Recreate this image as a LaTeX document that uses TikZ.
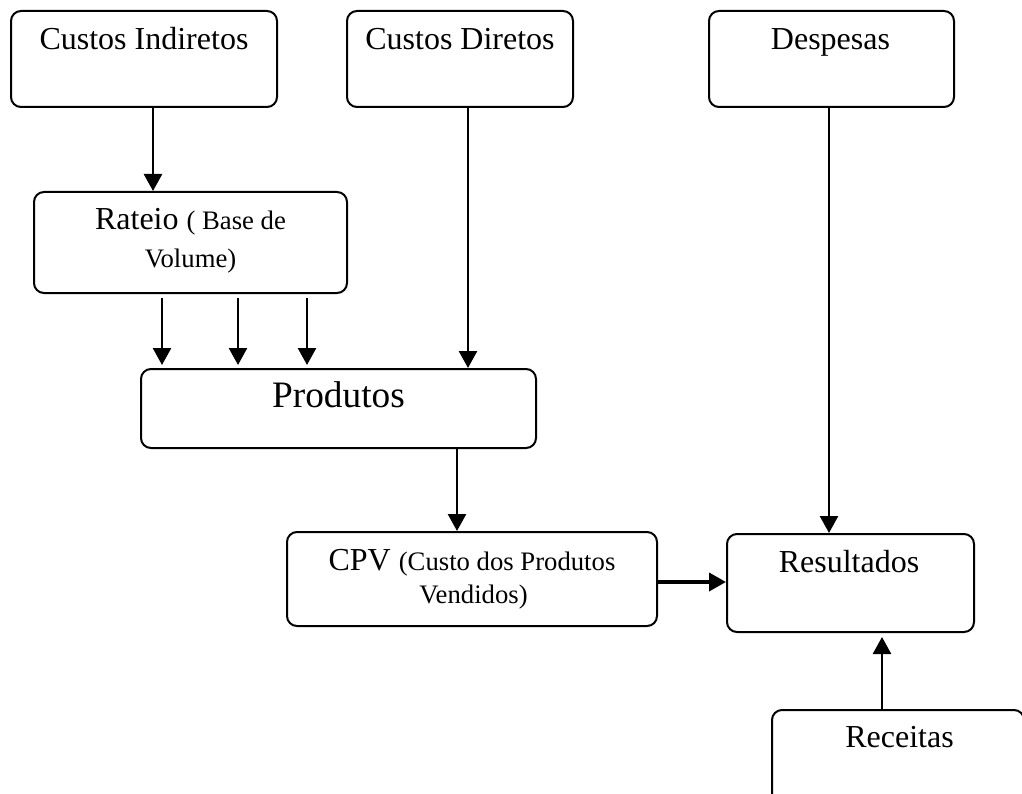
\documentclass[tikz,border=0pt]{standalone}
\usepackage{fontspec}
\setmainfont{Liberation Serif}
\usetikzlibrary{arrows.meta}
\newcommand{\largetxt}{\fontsize{37.3}{44}\selectfont}
\newcommand{\normtxt}{\fontsize{32}{38}\selectfont}
\newcommand{\smalltxt}{\fontsize{26.7}{32}\selectfont}
\tikzset{
  box/.style={draw, line width=2pt, rounded corners=10pt, inner sep=0pt},
  txt/.style={anchor=base, inner sep=0pt, font=\normtxt},
  arr/.style={line width=2.6pt, -{Triangle[width=18pt,length=17pt]}},
  thickarr/.style={line width=3.6pt, -{Triangle[width=18pt,length=17pt]}}
}
\begin{document}
\begin{tikzpicture}[x=1pt,y=-1pt]
\useasboundingbox (0,0) rectangle (1022,794);

% boxes
\node[box, minimum width=266pt, minimum height=96pt]  (ci)     at (144,59) {};
\node[box, minimum width=226pt, minimum height=96pt]  (cd)     at (460,59) {};
\node[box, minimum width=245pt, minimum height=96pt]  (desp)   at (831.5,59) {};
\node[box, minimum width=313pt, minimum height=101pt] (rateio) at (190.5,242.5) {};
\node[box, minimum width=395pt, minimum height=79pt]  (prod)   at (338.5,408.5) {};
\node[box, minimum width=370pt, minimum height=94pt]  (cpv)    at (472,579) {};
\node[box, minimum width=247pt, minimum height=98pt]  (res)    at (850.5,583) {};
\node[box, minimum width=252pt, minimum height=120pt] (rec)    at (898,770) {};

% labels
\node[txt] (tci)   at (144,50)   {Custos Indiretos};
\node[txt] (tcd)   at (460,50)   {Custos Diretos};
\node[txt] (tdesp) at (830.5,50) {Despesas};
\node[txt] (tra1)  at (190.5,230) {Rateio {\smalltxt( Base de}};
\node[txt, font=\smalltxt] (tra2) at (190.5,268) {Volume)};
\node[txt, font=\largetxt] (tprod) at (338.5,407) {Produtos};
\node[txt] (tcpv1) at (472,570) {CPV {\smalltxt(Custo dos Produtos}};
\node[txt, font=\smalltxt] (tcpv2) at (473.5,603) {Vendidos)};
\node[txt] (tres)  at (849,572)  {Resultados};
\node[txt] (trec)  at (899.5,747) {Receitas};

% connectors
\draw[arr] ([xshift=9pt]ci.south) -- ([xshift=9pt]ci.south |- rateio.north);
\foreach \dx in {-28.5,47.5,116.5}
  \draw[arr, shorten <=4pt, shorten >=3pt]
    ([xshift=\dx pt]rateio.south) -- ([xshift=\dx pt]rateio.south |- prod.north);
\draw[arr] ([xshift=8pt]cd.south) -- ([xshift=8pt]cd.south |- prod.north);
\draw[arr] ([xshift=118.5pt]prod.south) -- ([xshift=118.5pt]prod.south |- cpv.north);
\draw[arr] ([xshift=-2.5pt]desp.south) -- ([xshift=-2.5pt]desp.south |- res.north);
\draw[thickarr] ([yshift=-3pt]cpv.east) -- ([yshift=-3pt]cpv.east -| res.west);
\draw[arr, shorten >=4pt] ([xshift=-16pt]rec.north) -- ([xshift=-16pt]rec.north |- res.south);
\end{tikzpicture}
\end{document}
